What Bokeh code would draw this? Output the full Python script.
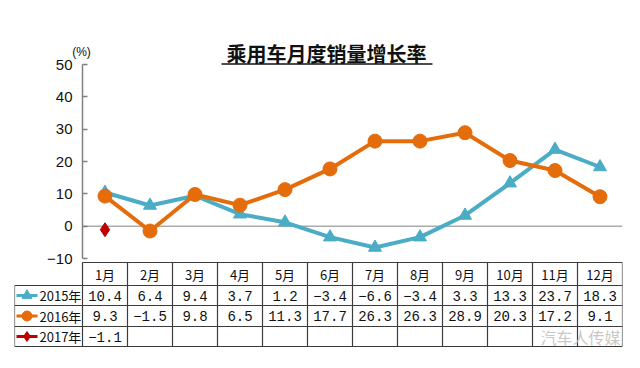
from bokeh.plotting import figure
from bokeh.models import Range1d, FixedTicker
from bokeh.core.properties import value
from bokeh.embed import file_html
from bokeh.resources import INLINE

# ---------------- data ----------------
months = ["1月", "2月", "3月", "4月", "5月", "6月", "7月", "8月", "9月", "10月", "11月", "12月"]
series_names = ["2015年", "2016年", "2017年"]
v2015 = [10.4, 6.4, 9.4, 3.7, 1.2, -3.4, -6.6, -3.4, 3.3, 13.3, 23.7, 18.3]
v2016 = [9.3, -1.5, 9.8, 6.5, 11.3, 17.7, 26.3, 26.3, 28.9, 20.3, 17.2, 9.1]
v2017 = [-1.1]
y_ticks = [-10, 0, 10, 20, 30, 40, 50]
title_text = "乘用车月度销量增长率"
unit_text = "(%)"
watermark = "汽车人传媒"

TEAL = "#4BACC6"
ORANGE = "#E46C0A"
RED = "#C00000"
GRID = "#3c3c3c"
CJK = "Noto Sans CJK SC"

# ---------------- layout helpers (page pixel -> data) ----------------
COL_W = 45.0
def xd(px):
    return 0.5 + (px - 82) / COL_W

S = (258 - 64) / 60.0
def yd(py):
    return 50 - (py - 64) / S

p = figure(width=632, height=360,
           x_range=Range1d(xd(14), xd(622)), y_range=Range1d(yd(352), yd(30)),
           output_backend="svg", toolbar_location=None,
           min_border_left=14, min_border_right=10, min_border_top=30, min_border_bottom=8,
           x_axis_location=None)
p.outline_line_color = None
p.xgrid.visible = False
p.ygrid.visible = False
p.background_fill_color = "white"
p.border_fill_color = "white"

n = len(months)
xs = list(range(1, n + 1))

# y axis
ax = p.yaxis[0]
ax.fixed_location = 0.5
ax.bounds = (y_ticks[0], y_ticks[-1])
ax.ticker = FixedTicker(ticks=y_ticks)
ax.major_label_overrides = {t: str(t).replace("-", "−") for t in y_ticks}
ax.major_tick_in = 5
ax.major_tick_out = 0
ax.minor_tick_line_color = None
ax.axis_line_color = "#808080"
ax.axis_line_width = 1.5
ax.major_tick_line_color = "#808080"
ax.major_tick_line_width = 1.5
ax.major_label_text_font = "Liberation Sans"
ax.major_label_text_font_size = "15px"
ax.major_label_text_color = "#111111"
ax.major_label_standoff = 10

# zero line
p.segment(x0=[0.5], y0=[0], x1=[n + 0.5], y1=[0], line_color="#808080", line_width=1)

# series
p.line(xs, v2015, line_color=TEAL, line_width=4)
p.scatter(xs, v2015, marker="triangle", size=13, fill_color=TEAL, line_color=TEAL)
p.line(xs, v2016, line_color=ORANGE, line_width=4)
p.scatter(xs, v2016, marker="circle", size=14, fill_color=ORANGE, line_color=ORANGE)
p.scatter(xs[:len(v2017)], v2017, marker="diamond", size=14, fill_color=RED, line_color=RED)

# ---------------- table ----------------
t0, t1, t2, t3, t4 = yd(262), yd(285), yd(305), yd(326), yd(346)
row_tops = [t1, t2, t3]
row_bots = [t2, t3, t4]
xl = xd(14)

# vertical lines
p.segment(x0=[k + 0.5 for k in range(n + 1)], y0=[t0] * (n + 1),
          x1=[k + 0.5 for k in range(n + 1)], y1=[t4] * (n + 1),
          line_color=GRID, line_width=1.2)
p.segment(x0=[xl], y0=[t1], x1=[xl], y1=[t4], line_color=GRID, line_width=1.2)
# horizontal lines
p.segment(x0=[0.5], y0=[t0], x1=[n + 0.5], y1=[t0], line_color=GRID, line_width=1.2)
p.segment(x0=[xl] * 4, y0=[t1, t2, t3, t4], x1=[n + 0.5] * 4, y1=[t1, t2, t3, t4],
          line_color=GRID, line_width=1.2)

# header
p.text(x=xs, y=[(t0 + t1) / 2] * n, text=months, text_align="center", text_baseline="middle",
       text_font=value(CJK), text_font_size="13px", text_color="#111111")

def fmt(v):
    return f"{v:.1f}".replace("-", "−")

series = [v2015, v2016, v2017]
colors = [TEAL, ORANGE, RED]
markers = ["triangle", "circle", "diamond"]
for i, vals in enumerate(series):
    yc = (row_tops[i] + row_bots[i]) / 2
    p.text(x=xs[:len(vals)], y=[yc] * len(vals), text=[fmt(v) for v in vals],
           text_align="center", text_baseline="middle",
           text_font=value("Liberation Mono"), text_font_size="14px", text_color="#111111")
    # legend icon
    p.segment(x0=[xd(16)], y0=[yc], x1=[xd(37)], y1=[yc], line_color=colors[i], line_width=3)
    p.scatter(x=[xd(26.5)], y=[yc], marker=markers[i], size=10,
              fill_color=colors[i], line_color=colors[i])
    p.text(x=[xd(39)], y=[yc], text=[series_names[i]], text_align="left", text_baseline="middle",
           text_font=value(CJK), text_font_size="13px", text_color="#111111")

# title with underline
p.text(x=[xd(326)], y=[yd(53)], text=[title_text], text_align="center", text_baseline="middle",
       text_font=value(CJK), text_font_size="20px", text_font_style="bold", text_color="#111111")
p.segment(x0=[xd(221)], y0=[yd(63.5)], x1=[xd(432)], y1=[yd(63.5)], line_color="#111111", line_width=1.5)

# unit
p.text(x=[xd(81)], y=[yd(51)], text=[unit_text], text_align="center", text_baseline="middle",
       text_font=value("Liberation Sans"), text_font_size="12px", text_color="#111111")

# watermark
p.text(x=[xd(580)], y=[yd(336)], text=[watermark], text_align="center", text_baseline="middle",
       text_font=value(CJK), text_font_size="16px", text_color="#c8c8c8")

open("out.html", "w").write(file_html(p, INLINE))
